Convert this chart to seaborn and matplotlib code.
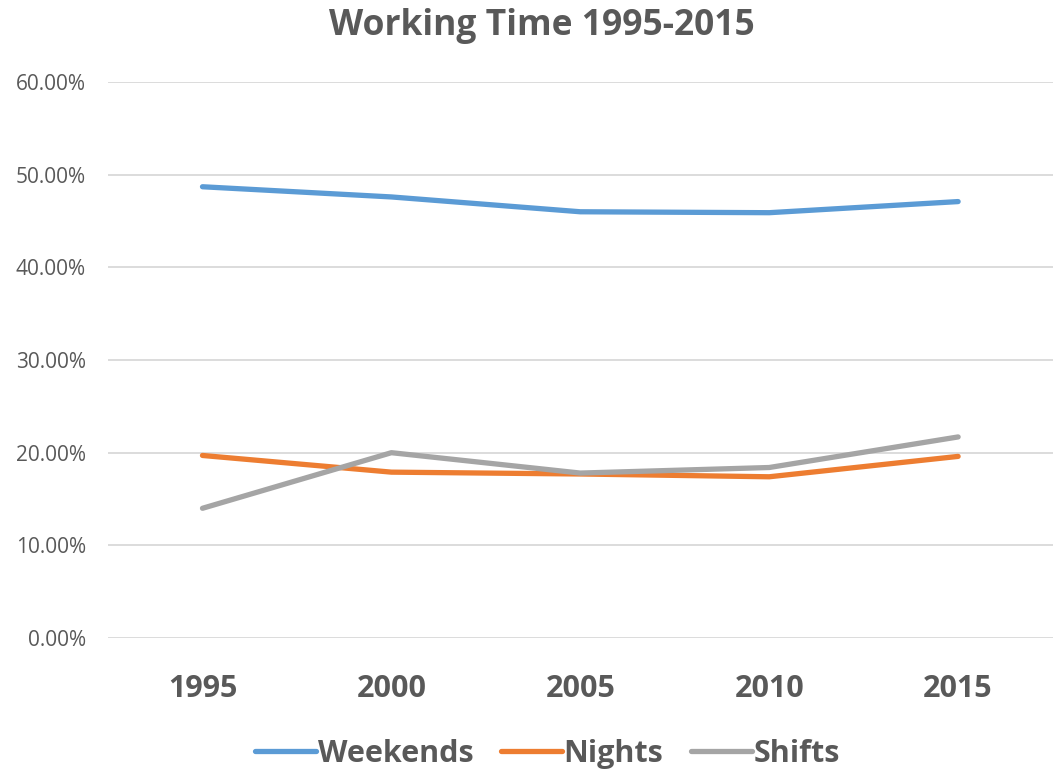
import matplotlib.pyplot as plt
import matplotlib.ticker as mtick
import seaborn as sns
import pandas as pd

# data (shares)
years = ['1995', '2000', '2005', '2010', '2015']
weekends = [0.487, 0.476, 0.460, 0.459, 0.471]
nights = [0.197, 0.179, 0.177, 0.174, 0.196]
shifts = [0.140, 0.200, 0.178, 0.184, 0.217]
series = ['Weekends', 'Nights', 'Shifts']
colors = ['#5B9BD5', '#ED7D31', '#A5A5A5']

df = pd.DataFrame({
    'Year': years * 3,
    'Share': weekends + nights + shifts,
    'Series': [s for s in series for _ in years],
})

sns.set_theme(style="white")
plt.rcParams['font.family'] = ['Open Sans', 'DejaVu Sans']
text_col = '#595959'

fig = plt.figure(figsize=(10.53, 7.74), dpi=100)
ax = fig.add_axes([0.1026, 0.1757, 0.897, 0.7183])

sns.lineplot(data=df, x='Year', y='Share', hue='Series', palette=colors,
             linewidth=3.8, ax=ax, sort=False)
for ln in ax.lines:
    ln.set_solid_capstyle('round')
    ln.set_solid_joinstyle('round')

ax.set_ylim(0, 0.6)
ax.set_xlim(-0.5, 4.5)
ax.yaxis.set_major_locator(mtick.MultipleLocator(0.1))
ax.yaxis.set_major_formatter(mtick.PercentFormatter(1.0, decimals=2))
ax.grid(axis='y', color='#D9D9D9', linewidth=1.3)
ax.set_axisbelow(True)
for sp in ax.spines.values():
    sp.set_visible(False)
ax.tick_params(axis='y', length=0, pad=16, labelsize=15, labelcolor=text_col)
ax.tick_params(axis='x', length=0, pad=26, labelsize=22, labelcolor=text_col)
for lab in ax.get_xticklabels():
    lab.set_fontweight('bold')
ax.set_xlabel('')
ax.set_ylabel('')

fig.suptitle('Working Time 1995-2015', x=0.515, y=0.99, fontsize=25.5,
             fontweight='bold', color=text_col)

leg = ax.legend(loc='lower center', bbox_to_anchor=(0.465, -0.285), ncol=3,
                frameon=False, handlelength=2.0, handletextpad=0.05,
                columnspacing=0.9, prop={'size': 22, 'weight': 'bold'})
for t in leg.get_texts():
    t.set_color(text_col)
for h in leg.get_lines():
    h.set_linewidth(3.8)
    h.set_solid_capstyle('round')

fig.savefig('out.png', dpi=100)
